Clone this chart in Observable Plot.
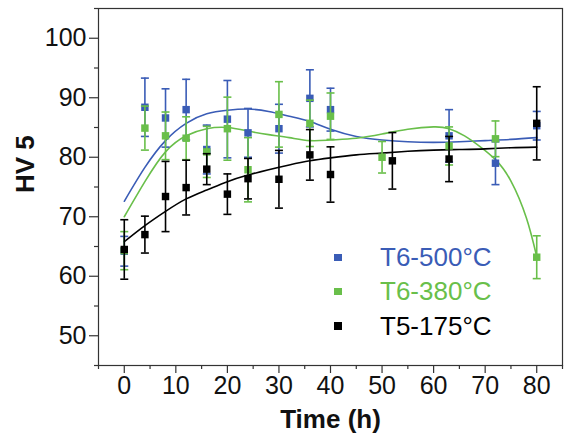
<!DOCTYPE html>
<html>
<head>
<meta charset="utf-8">
<script src="https://cdn.jsdelivr.net/npm/d3@7"></script>
<script src="https://cdn.jsdelivr.net/npm/@observablehq/plot@0.6"></script>
<style>
  html, body { margin: 0; padding: 0; background: #fff; }
  #wrap { position: relative; width: 564px; height: 442px; font-family: "Liberation Sans", Arial, sans-serif; }
  #legend { position: absolute; left: 334px; top: 241px; }
  .row { position: relative; height: 34.4px; width: 230px; }
  .sw { position: absolute; left: 0; top: 12.5px; width: 7.5px; height: 7.5px; }
  .lb { position: absolute; left: 46px; top: 0; font-size: 26px; line-height: 32px; white-space: nowrap; }
</style>
</head>
<body>
<div id="wrap"></div>
<script>
// ---- data ----
const seriesNames = ["T6-500°C", "T6-380°C", "T5-175°C"];
const seriesColors = ["#3a5cb6", "#69bf4a", "#000000"];

// T6-500°C
const blueX   = [0, 4, 8, 12, 16, 20, 24, 30, 36, 40, 63, 72, 80];
const blueY   = [64.2, 88.4, 86.6, 88.0, 81.3, 86.4, 84.1, 84.8, 89.9, 88.0, 83.6, 79.0, 85.3];
const blueErr = [2.5, 4.9, 4.9, 5.1, 4.1, 6.5, 4.1, 4.1, 4.8, 3.6, 4.4, 3.6, 2.4];

// T6-380°C
const greenX   = [0, 4, 8, 12, 16, 20, 24, 30, 36, 40, 50, 63, 72, 80];
const greenY   = [64.3, 84.9, 83.6, 83.2, 80.9, 84.8, 77.9, 87.2, 85.7, 86.9, 80.0, 81.9, 83.1, 63.2];
const greenErr = [3.2, 3.7, 4.0, 3.6, 4.3, 5.3, 5.4, 5.5, 3.9, 3.9, 2.65, 3.2, 3.0, 3.6];

// T5-175°C
const blackX   = [0, 4, 8, 12, 16, 20, 24, 30, 36, 40, 52, 63, 80];
const blackY   = [64.5, 67.0, 73.4, 74.9, 78.0, 73.8, 76.4, 76.3, 80.4, 77.1, 79.4, 79.7, 85.7];
const blackErr = [5.0, 3.1, 5.9, 4.6, 2.6, 3.4, 3.4, 4.85, 4.25, 4.65, 4.75, 3.8, 6.15];

// fitted curves
const blueFitX = [0, 4, 8, 12, 16, 20, 24, 28, 32, 36, 40, 45, 50, 55, 60, 65, 70, 75, 80];
const blueFitY = [72.6, 78.3, 82.8, 85.7, 87.3, 87.9, 88.1, 87.7, 86.9, 86.0, 84.7, 83.5, 82.9, 82.6, 82.5, 82.6, 82.8, 83.0, 83.3];
const greenFitX = [0, 4, 8, 12, 16, 20, 24, 28, 32, 36, 40, 45, 50, 55, 60, 63, 66, 69, 72, 75, 78, 80];
const greenFitY = [70.0, 75.9, 80.9, 83.6, 84.8, 85.0, 84.4, 83.8, 83.3, 82.8, 82.9, 83.2, 83.9, 84.7, 85.1, 84.8, 83.6, 81.8, 79.6, 76.0, 69.8, 63.3];
const blackFitX = [0, 4, 8, 12, 16, 20, 24, 28, 32, 36, 40, 45, 50, 55, 60, 65, 70, 75, 80];
const blackFitY = [65.8, 68.5, 70.9, 73.0, 74.5, 75.9, 77.0, 77.9, 78.7, 79.4, 79.9, 80.4, 80.7, 81.0, 81.2, 81.3, 81.4, 81.6, 81.7];

const xTicks = [0, 10, 20, 30, 40, 50, 60, 70, 80];
const xMinor = [-5, 5, 15, 25, 35, 45, 55, 65, 75, 85];
const yTicks = [50, 60, 70, 80, 90, 100];
const yMinor = [45, 55, 65, 75, 85, 95, 105];

// ---- tables ----
const pts = (xs, ys, es, s) => xs.map((x, i) => ({x, y: ys[i], e: es[i], s}));
const fit = (xs, ys, s) => xs.map((x, i) => ({x, y: ys[i], s}));
const series = [
  {pts: pts(blueX, blueY, blueErr, 0), fit: fit(blueFitX, blueFitY, 0)},
  {pts: pts(greenX, greenY, greenErr, 1), fit: fit(greenFitX, greenFitY, 1)},
  {pts: pts(blackX, blackY, blackErr, 2), fit: fit(blackFitX, blackFitY, 2)}
];

const capSymbol = { draw(ctx) { ctx.moveTo(-4, 0); ctx.lineTo(4, 0); } };

const marks = [
  Plot.frame({stroke: "#333", strokeWidth: 1.2}),
  Plot.axisY({ticks: yTicks, tickSize: 9, tickPadding: 3, fontSize: 25, label: null, stroke: "#333", strokeWidth: 1.2}),
  Plot.axisY({ticks: yMinor, tickSize: 4, text: null, label: null, stroke: "#333", strokeWidth: 1.2}),
  Plot.axisX({ticks: xTicks, tickSize: 8, tickPadding: 3, fontSize: 25, label: null, stroke: "#333", strokeWidth: 1.2}),
  Plot.axisX({ticks: xMinor, tickSize: 4, text: null, label: null, stroke: "#333", strokeWidth: 1.2}),
  Plot.text(["HV 5"], {text: d => d, frameAnchor: "left", rotate: -90, dx: -73, dy: 6, fontSize: 26, fontWeight: "bold", fill: "#111"}),
  Plot.text(["Time (h)"], {text: d => d, frameAnchor: "bottom", dy: 62, fontSize: 26, fontWeight: "bold", fill: "#111"})
];

series.forEach(({fit}) => {
  marks.push(Plot.line(fit, {x: "x", y: "y", curve: "natural", stroke: seriesColors[fit[0].s], strokeWidth: 1.6}));
});
series.forEach(({pts}) => {
  const c = seriesColors[pts[0].s];
  marks.push(
    Plot.ruleX(pts, {x: "x", y1: d => d.y - d.e, y2: d => d.y + d.e, stroke: c, strokeWidth: 1.6}),
    Plot.dot(pts, {x: "x", y: d => d.y - d.e, symbol: capSymbol, stroke: c, strokeWidth: 1.6}),
    Plot.dot(pts, {x: "x", y: d => d.y + d.e, symbol: capSymbol, stroke: c, strokeWidth: 1.6}),
    Plot.dot(pts, {x: "x", y: "y", symbol: "square", r: 4.2, fill: c, stroke: "none"})
  );
});

const chart = Plot.plot({
  width: 564,
  height: 442,
  marginLeft: 98,
  marginRight: 2,
  marginTop: 8,
  marginBottom: 77,
  x: {domain: [-5, 85]},
  y: {domain: [45, 105]},
  style: {fontFamily: "'Liberation Sans', Arial, sans-serif", color: "#111", background: "#fff", overflow: "visible"},
  marks
});

const wrap = document.getElementById("wrap");
wrap.appendChild(chart);

const legend = document.createElement("div");
legend.id = "legend";
seriesNames.forEach((name, i) => {
  const row = document.createElement("div");
  row.className = "row";
  const sw = document.createElement("div");
  sw.className = "sw";
  sw.style.background = seriesColors[i];
  const lb = document.createElement("div");
  lb.className = "lb";
  lb.style.color = seriesColors[i];
  lb.textContent = name;
  row.appendChild(sw);
  row.appendChild(lb);
  legend.appendChild(row);
});
wrap.appendChild(legend);
</script>
</body>
</html>
